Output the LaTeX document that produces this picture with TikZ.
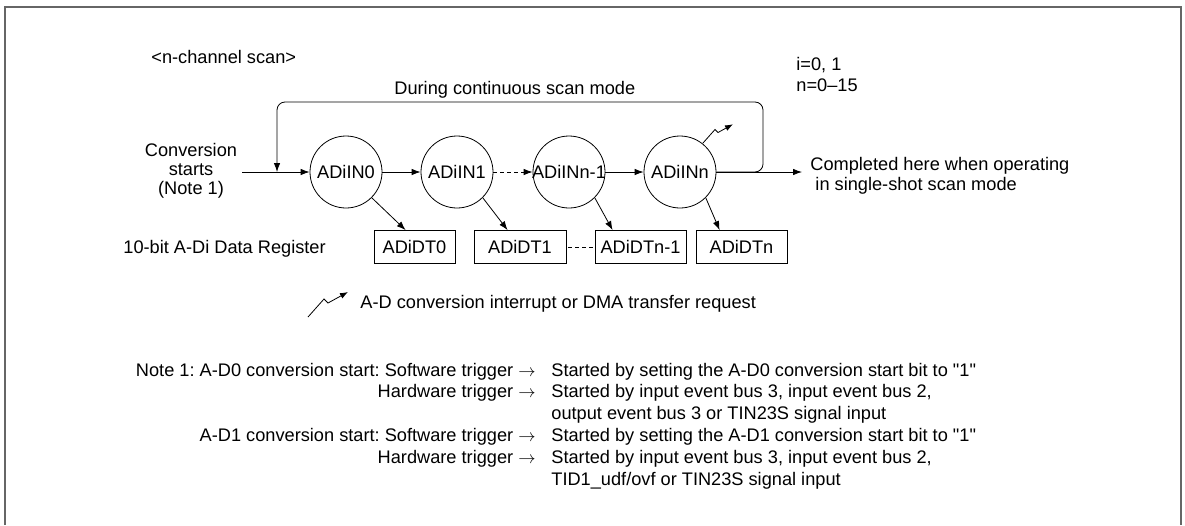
\documentclass[tikz,border=0pt]{standalone}
\usepackage{fontspec}
\setmainfont{Liberation Sans}
\usetikzlibrary{arrows.meta, positioning, calc}

\tikzset{
  chan/.style={draw, circle, minimum size=72pt, inner sep=0pt},
  dreg/.style={draw, minimum height=33pt, inner sep=0pt},
  lbl/.style={inner sep=0pt},
  flow/.style={-{Latex[length=9pt, width=6.5pt]}},
  zap/.pic={\draw[-{Latex[length=8pt, width=6pt]}] (0,0) -- (16,-18) -- (20,-14) -- (40,-25);}
}
\newcommand{\chtxt}[1]{\makebox[0pt]{#1}}

\begin{document}
\frenchspacing
\begin{tikzpicture}[x=1pt, y=-1pt, line width=0.8pt, font=\fontsize{18.2}{20}\selectfont]
  \useasboundingbox (0,0) rectangle (1185,525);
  \draw[black!60, line width=1.6pt] (5,525) -- (5,7) -- (1181,7) -- (1181,525);

  % scan channels
  \node[chan] (c0) at (346,172) {\chtxt{ADiIN0}};
  \node[chan] (c1) at (457,172) {\chtxt{ADiIN1}};
  \node[chan] (c2) at (569,172) {\chtxt{ADiINn-1}};
  \node[chan] (cn) at (680,172) {\chtxt{ADiINn}};

  % data registers
  \node[dreg, minimum width=81pt] (r0) at (414.5,247) {ADiDT0};
  \node[dreg, minimum width=92pt] (r1) at (520,247) {ADiDT1};
  \node[dreg, minimum width=91pt] (r2) at (640.5,247) {ADiDTn-1};
  \node[dreg, minimum width=91pt] (rn) at (741.5,247) {ADiDTn};

  % labels
  \node[lbl, anchor=west] (title) at (151,57) {<n-channel scan>};
  \node[lbl, anchor=west] (cont) at (394,90) {During continuous scan mode};
  \node[lbl, anchor=west, align=left, font=\fontsize{18.2}{21}\selectfont] (range) at (796,74) {i=0, 1\\n=0--15};
  \node[lbl, align=center, font=\fontsize{18.2}{19}\selectfont] (conv) at (191,171) {Conversion\\starts\\(Note 1)};
  \node[lbl, anchor=west, align=left] (single) at (810,176)
    {Completed here when operating\\\ in single-shot scan mode};
  \node[lbl, anchor=west] (reglbl) at (123,249) {10-bit A-Di Data Register};

  \coordinate (go) at (242,172);
  \coordinate (done) at (802,172);

  % scan flow
  \draw[flow] (go) -- (c0);
  \draw[flow] (c0) -- (c1);
  \draw[flow, dash pattern=on 4pt off 3pt] (c1) -- (c2);
  \draw[flow] (c2) -- (cn);
  \draw[flow] (cn) -- (done);
  \draw[flow, rounded corners=8pt] (cn.east) -- (763,172) -- (763,102) -- (277,102) -- (277,172);

  \foreach \c/\r/\dx in {c0/r0/32, c1/r1/34, c2/r2/18, cn/rn/24}
    \draw[flow] (\c.-45) -- ($(\r.north west)+(\dx,0)$);
  \draw[dash pattern=on 4pt off 3pt, shorten <=2pt, shorten >=2pt] (r1) -- (r2);

  % interrupt request
  \pic[scale=0.75] at (703,143) {zap};
  \pic at (308,317) {zap};
  \node[lbl, anchor=west] (irq) at (360,304) {A-D conversion interrupt or DMA transfer request};

  % note 1
  \node[lbl, anchor=east] (n1) at (536,372) {Note 1: A-D0 conversion start: Software trigger $\rightarrow$};
  \node[lbl, anchor=east] (n2) at (536,393) {Hardware trigger $\rightarrow$};
  \node[lbl, anchor=east] (n3) at (536,437) {A-D1 conversion start: Software trigger $\rightarrow$};
  \node[lbl, anchor=east] (n4) at (536,459) {Hardware trigger $\rightarrow$};
  \node[lbl, anchor=west] (s1) at (551,372) {Started by setting the A-D0 conversion start bit to \textquotedbl 1\textquotedbl};
  \node[lbl, anchor=west] (s2) at (551,393) {Started by input event bus 3, input event bus 2,};
  \node[lbl, anchor=west] (s3) at (551,415) {output event bus 3 or TIN23S signal input};
  \node[lbl, anchor=west] (s4) at (551,437) {Started by setting the A-D1 conversion start bit to \textquotedbl 1\textquotedbl};
  \node[lbl, anchor=west] (s5) at (551,459) {Started by input event bus 3, input event bus 2,};
  \node[lbl, anchor=west] (s6) at (551,481) {TID1\_udf/ovf or TIN23S signal input};
\end{tikzpicture}
\end{document}
